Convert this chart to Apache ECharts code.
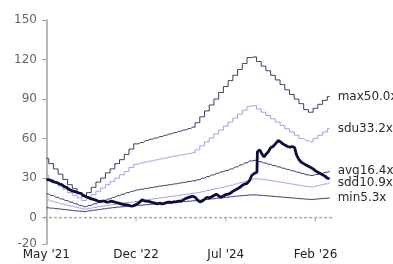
<!DOCTYPE html>
<html>
<head>
<meta charset="utf-8">
<script src="https://cdn.jsdelivr.net/npm/echarts@6/dist/echarts.min.js"></script>
<style>
  html, body { margin: 0; padding: 0; background: #fff; }
  #chart { width: 393px; height: 264px; }
</style>
</head>
<body>
<div id="chart"></div>
<script>
// x = months since May 2021
const xTickMonths = [0, 19, 38, 57];
const xTickLabels = ["May '21", "Dec '22", "Jul '24", "Feb '26"];
const yTicks = [-20, 0, 30, 60, 90, 120, 150];

// monthly band values, May 2021 .. May 2026
const maxBand = [45, 41, 37, 33, 29, 25, 22, 19, 16, 19, 23, 27, 30, 34, 37, 41, 44, 48, 52, 56,
  57, 58.5, 59.5, 60.5, 61.5, 62.5, 63.5, 64.5, 65.5, 66.5, 67.5, 68.7, 72, 76.5, 81, 85.5, 90, 95, 99.5, 104,
  108, 112.5, 117, 121.5, 122, 118.5, 115, 111.5, 108, 104.5, 101, 97, 93.5, 90, 86.5, 82, 80, 83, 86, 89, 92];
const sduBand = [32, 29, 26.5, 24, 21.5, 19, 17, 15, 13, 15, 17.5, 20, 22.5, 25, 27.5, 30, 32.5, 35, 38, 40.5,
  41.5, 42.3, 43, 43.8, 44.5, 45.2, 46, 46.7, 47.4, 48, 48.6, 49.3, 51.5, 54.5, 57.5, 60.5, 63.5, 66.5, 69.5, 72.5,
  75.5, 78.5, 81.5, 84.5, 85, 82.5, 80, 77.5, 75, 72.5, 70, 67.5, 65, 62.5, 60, 58.5, 57.5, 60, 62.5, 65, 67.5];
const avgBand = [18, 16.8, 15.5, 14.2, 13, 11.8, 10.5, 9.3, 8.3, 9.3, 10.5, 11.7, 13, 14.2, 15.4, 16.6, 17.8, 19, 20, 21,
  21.6, 22.2, 22.8, 23.4, 24, 24.5, 25, 25.6, 26.2, 26.8, 27.4, 28, 28.8, 30, 31.2, 32.4, 33.6, 34.8, 35.8, 37,
  38.5, 40, 41.5, 43, 43.5, 42.5, 41.5, 40.5, 39.5, 38.5, 37.5, 36.5, 35.5, 34.5, 33.5, 32.5, 32, 32.8, 33.6, 34.4, 35.2];
const sddBand = [13.5, 12.5, 11.5, 10.5, 9.6, 8.8, 8, 7.2, 6.5, 7.1, 7.7, 8.3, 8.9, 9.5, 10, 10.5, 11, 11.4, 11.8, 12.2,
  12.8, 13.4, 14, 14.5, 15, 15.5, 16, 16.5, 17, 17.5, 18, 18.5, 19, 19.8, 20.6, 21.4, 22.2, 23, 23.8, 24.6,
  25.6, 26.6, 27.6, 28.6, 29.5, 29.2, 28.8, 28.3, 27.8, 27.2, 26.6, 26, 25.4, 24.8, 24.2, 23.6, 23.2, 24, 24.8, 25.6, 26.4];
const minBand = [7.5, 7.2, 6.8, 6.4, 6, 5.6, 5.2, 4.9, 4.7, 5.2, 5.7, 6.2, 6.7, 7.2, 7.6, 8, 8.3, 8.6, 8.9, 9.2,
  9.5, 9.8, 10.1, 10.4, 10.7, 11, 11.3, 11.6, 11.9, 12.2, 12.5, 12.8, 13.1, 13.5, 13.9, 14.3, 14.7, 15.1, 15.5, 15.9,
  16.3, 16.6, 16.9, 17.2, 17.3, 17, 16.7, 16.4, 16.1, 15.8, 15.5, 15.2, 14.9, 14.6, 14.3, 14, 13.8, 14.1, 14.4, 14.7, 15];

// actual multiple
const peMonths = [0, 0.4, 0.8, 1.3, 1.8, 2.3, 2.8, 3.3, 3.8, 4.3, 4.8, 5.3, 5.8, 6.3, 6.8, 7.3, 7.8, 8.3, 8.8, 9.3,
  9.8, 10.3, 10.8, 11.3, 11.8, 12.3, 12.8, 13.3, 13.8, 14.3, 14.8, 15.3, 15.8, 16.3, 16.8, 17.3, 17.8, 18.3, 18.8, 19.3,
  19.8, 20.3, 20.6, 21, 21.5, 22, 22.5, 23, 23.5, 24, 24.5, 25, 25.5, 26, 26.5, 27, 27.5, 28, 28.5, 29,
  29.5, 30, 30.5, 31, 31.5, 32, 32.5, 33, 33.5, 34, 34.5, 35, 35.5, 36, 36.5, 37, 37.5, 38, 38.5, 39,
  39.5, 40, 40.5, 41, 41.5, 42, 42.5, 43, 43.5, 44, 44.6, 44.7, 45.2, 45.7, 46.1, 46.5, 47, 47.5, 48, 48.5,
  49.1, 49.6, 50.1, 50.6, 51.1, 51.6, 52.1, 52.6, 53, 53.5, 54, 54.5, 55, 55.5, 56, 56.5, 57, 57.5, 58, 58.5,
  59, 59.5, 60];
const peValues = [29, 30, 28.5, 27.5, 27, 26.5, 25.5, 25, 23.5, 23, 21.5, 20.5, 20, 19.5, 18.8, 18.5, 17, 16, 15.5, 14.5,
  14, 13.5, 12.8, 12.2, 12.5, 12.5, 11.8, 12, 12.5, 12, 11.5, 11, 10.5, 10, 9.8, 9.5, 9, 8.8, 9.5, 10.5,
  12, 13.5, 13.5, 12.5, 12.5, 12, 11.5, 11, 10.5, 11, 10.5, 10.8, 11.5, 11.8, 11.5, 12, 12, 12.5, 12.5, 13.5,
  14.5, 15.2, 15.8, 16.3, 15.5, 13.5, 12, 12.5, 14, 15.5, 15, 15.8, 16.8, 17.8, 16.5, 15.5, 16.5, 17.5, 17.8, 18.6,
  20, 21, 22, 23, 24.5, 25.5, 26, 28, 32, 33.5, 34.5, 50, 51.5, 48, 46, 48, 50, 53, 54, 56,
  58.5, 57.5, 56, 55, 54, 53.5, 54, 53, 47.5, 44, 42, 41, 40, 39, 38, 37, 35.5, 34.5, 33.5, 32.5,
  31.5, 30, 29.5];

const bands = [
  { name: "max50.0x", values: maxBand, color: "#3a3c66" },
  { name: "sdu33.2x", values: sduBand, color: "#a29ee2" },
  { name: "avg16.4x", values: avgBand, color: "#3a3c66" },
  { name: "sdd10.9x", values: sddBand, color: "#a29ee2" },
  { name: "min5.3x", values: minBand, color: "#3a3c66" },
];

const chart = echarts.init(document.getElementById("chart"));
const font = "DejaVu Sans";
const axisGrey = "#a0a0a0";
const xMin = -0.5;
const xMax = 60.5;

// the zero line is built from short dashes
const dashStep = 1.06; // ~5px in months
const zeroDashes = [];
for (let m = xMin + 0.3; m < xMax; m += dashStep) zeroDashes.push([m, 0]);

const series = [];

series.push({
  name: "zero",
  type: "scatter",
  data: zeroDashes,
  symbol: "rect",
  symbolSize: [3, 1.6],
  silent: true,
  z: 1,
  itemStyle: { color: "#9a9a9a" },
  emphasis: { disabled: true },
});
// small ticks hanging under the zero line
series.push({
  name: "zeroTicks",
  type: "scatter",
  data: xTickMonths.map((m) => [m, 0]),
  symbol: "rect",
  symbolSize: [1, 4],
  symbolOffset: [0, 2],
  silent: true,
  z: 1,
  itemStyle: { color: axisGrey },
  emphasis: { disabled: true },
});

bands.forEach((b) => {
  series.push({
    name: b.name,
    type: "line",
    step: "middle",
    data: b.values.map((v, i) => [i, v]),
    symbol: "none",
    lineStyle: { color: b.color, width: 1 },
    endLabel: {
      show: true,
      formatter: "{a}",
      distance: 8,
      color: "#2a2a2a",
      fontSize: 12,
      fontFamily: font,
    },
    emphasis: { disabled: true },
  });
});

series.push({
  name: "pe",
  type: "line",
  data: peMonths.map((m, i) => [m, peValues[i]]),
  symbol: "none",
  lineStyle: { color: "#0b0d3d", width: 2.8 },
  z: 5,
  emphasis: { disabled: true },
});

const option = {
  animation: false,
  grid: {
    left: 44,
    right: 61,
    top: 20,
    bottom: 20,
    containLabel: false,
    outerBoundsMode: "none",
  },
  xAxis: {
    type: "value",
    min: xMin,
    max: xMax,
    axisLine: { show: false, onZero: false },
    axisTick: { show: false },
    axisLabel: {
      customValues: xTickMonths,
      formatter: (v) => xTickLabels[xTickMonths.indexOf(v)] || "",
      margin: 5,
      color: "#222",
      fontSize: 12,
      fontFamily: font,
    },
    splitLine: { show: false },
  },
  yAxis: {
    type: "value",
    min: -20,
    max: 150,
    axisLine: { show: true, lineStyle: { color: axisGrey, width: 1.5 } },
    axisTick: {
      show: true,
      customValues: yTicks,
      length: 4,
      lineStyle: { color: axisGrey },
    },
    axisLabel: {
      customValues: yTicks,
      margin: 7,
      color: "#666",
      fontSize: 12,
      fontFamily: font,
    },
    splitLine: { show: false },
  },
  series: series,
};
chart.setOption(option);
</script>
</body>
</html>
